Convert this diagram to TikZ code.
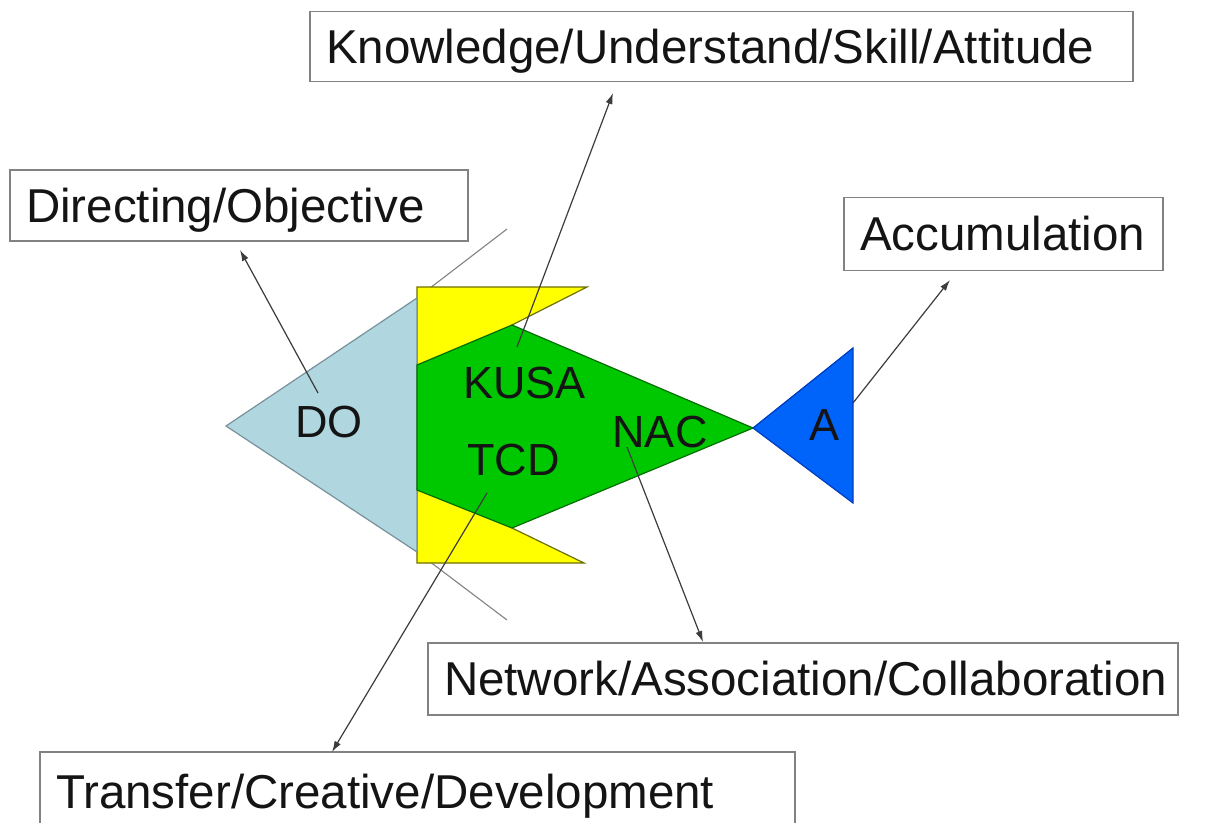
\documentclass[tikz,border=0pt]{standalone}
\usepackage{fontspec}
\setmainfont{Liberation Sans}
\usepackage{tikz}
\usetikzlibrary{arrows.meta}
\usetikzlibrary{math}
\definecolor{headblue}{RGB}{176,214,224}
\definecolor{headedge}{RGB}{120,145,155}
\definecolor{finyellow}{RGB}{255,255,0}
\definecolor{finedge}{RGB}{110,110,0}
\definecolor{bodygreen}{RGB}{0,200,0}
\definecolor{bodyedge}{RGB}{0,110,0}
\definecolor{tailblue}{RGB}{0,100,250}
\definecolor{tailedge}{RGB}{0,60,190}
\definecolor{boxgray}{RGB}{130,130,130}
\definecolor{linegray}{RGB}{60,60,60}
\definecolor{textdark}{RGB}{20,20,20}
\tikzstyle{box} = [rectangle, draw=boxgray, line width=1.8pt, fill=white, inner xsep=16pt, inner ysep=0pt, align=left, text=textdark, text height=41pt, text depth=7.5pt, font=\fontsize{47.5}{57}\selectfont]
\tikzstyle{tag} = [inner sep=0pt, text=textdark, font=\fontsize{45}{54}\selectfont]
\tikzstyle{arrow} = [-{Latex[length=11pt,width=7pt]}, line width=1.2pt, draw=linegray]
\tikzstyle{fin} = [line width=1.2pt]

\begin{document}
\begin{tikzpicture}[x=1pt, y=-1pt]

  \useasboundingbox (0,0) rectangle (1209,822);
  \clip (0,0) rectangle (1209,822);

  \tikzmath{\hx = 417; \fx = 512; \tx = 753;}

  % gill lines
  \draw[boxgray, line width=1.1pt] (\hx,298) -- (507,229);
  \draw[boxgray, line width=1.1pt] (\hx,552) -- (507,620);

  % fish
  \filldraw[fill=finyellow, draw=finedge, fin] (\hx,287) -- (587,287) -- (\fx,325) -- (\fx,528) -- (584,563) -- (\hx,563) -- cycle;
  \filldraw[fill=headblue, draw=headedge, fin] (226,426) -- (\hx,298) -- (\hx,552) -- cycle;
  \filldraw[fill=bodygreen, draw=bodyedge, fin] (\hx,365) -- (\fx,325) -- (\tx,428) -- (\fx,528) -- (\hx,490) -- cycle;
  \filldraw[fill=tailblue, draw=tailedge, fin] (\tx,428) -- (853,348) -- (853,503) -- cycle;

  \node[tag] (do) at (329,422) {DO};
  \node[tag, anchor=west] (kusa) at (463,383) {KUSA};
  \node[tag, anchor=west] (tcd) at (467,460) {TCD};
  \node[tag] (nac) at (660,432) {NAC};
  \node[tag] (a) at (824,425) {A};

  % labels
  \node[box, text width=791pt, minimum height=70pt] (know) at (721.5,46.5) {Knowledge/Understand/Skill/Attitude};
  \node[box, text width=426pt, minimum height=71pt] (dir) at (239,205.5) {Directing/Objective};
  \node[box, text width=287pt, minimum height=73pt] (acc) at (1003.5,234) {Accumulation};
  \node[box, text width=718pt, minimum height=72pt] (net) at (803,679) {Network/Association/Collaboration};
  \node[box, text width=723pt, minimum height=80pt] (trans) at (417.5,792) {Transfer/Creative/Development};

  % arrows
  \coordinate (do-out) at (318,393);
  \coordinate (do-in) at (240,250);
  \coordinate (kusa-out) at (517,347);
  \coordinate (kusa-in) at (613,93);
  \coordinate (tcd-out) at (487,493);
  \coordinate (tcd-in) at (332,752);
  \coordinate (nac-out) at (627,447);
  \coordinate (nac-in) at (703,642);
  \coordinate (a-out) at (853,403);
  \coordinate (a-in) at (950,280);

  \draw[arrow] (do-out) -- (do-in);
  \draw[arrow] (kusa-out) -- (kusa-in);
  \draw[arrow] (tcd-out) -- (tcd-in);
  \draw[arrow] (nac-out) -- (nac-in);
  \draw[arrow] (a-out) -- (a-in);

\end{tikzpicture}
\end{document}
